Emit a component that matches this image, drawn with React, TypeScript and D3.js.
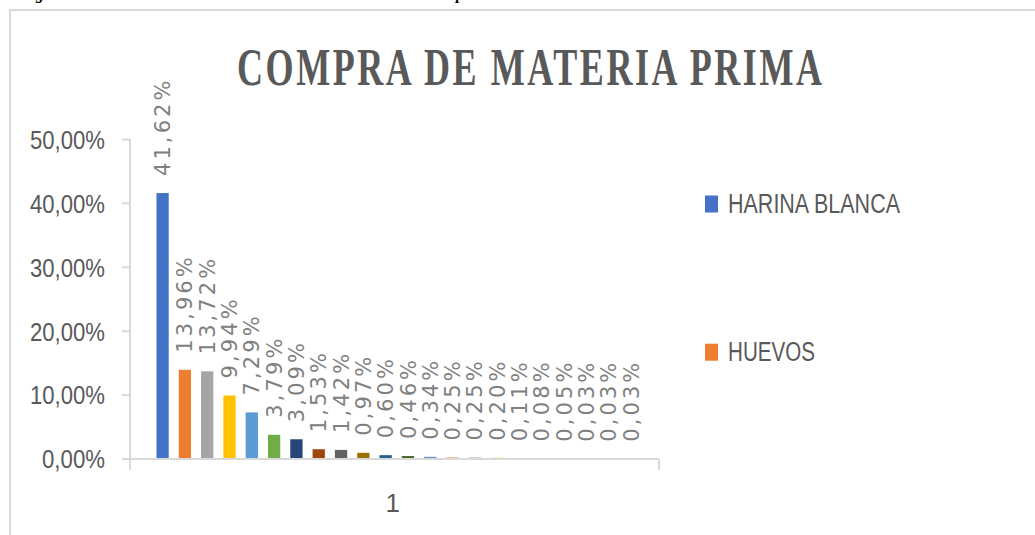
import React from "react";
import * as d3 from "d3";

const title = "COMPRA DE MATERIA PRIMA";
const categories = ["1"];
const legendNames = ["HARINA BLANCA", "HUEVOS"];
const values = [
  0.4162, 0.1396, 0.1372, 0.0994, 0.0729, 0.0379, 0.0309, 0.0153, 0.0142, 0.0097, 0.006,
  0.0046, 0.0034, 0.0025, 0.0025, 0.002, 0.0011, 0.0008, 0.0005, 0.0003, 0.0003, 0.0003,
];
const colors = [
  "#4472C4", "#ED7D31", "#A5A5A5", "#FFC000", "#5B9BD5", "#70AD47", "#264478", "#9E480E",
  "#636363", "#997300", "#255E91", "#43682B", "#698ED0", "#F1975A", "#B7B7B7", "#FFCD33",
  "#7CAFDD", "#8CC168", "#335AA1", "#D26012", "#848484", "#CC9A00",
];
const yTicks = [0, 0.1, 0.2, 0.3, 0.4, 0.5];

const fmtPct = (v: number) => d3.format(".2f")(v * 100).replace(".", ",") + "%";

export default function App() {
  const W = 1035;
  const H = 535;
  const plotLeft = 130;
  const plotRight = 659;
  const y = d3.scaleLinear().domain([0, 0.5]).range([459, 139.5]);
  const x0 = d3.scaleBand<string>().domain(categories).range([plotLeft, plotRight]).paddingOuter(0.039).align(0.56);
  const ids = values.map((_, i) => String(i));
  const x1 = d3
    .scaleBand<string>()
    .domain(ids)
    .range([0, x0.bandwidth()])
    .paddingInner(0.45)
    .paddingOuter(0.225);
  const grid = "#d9d9d9";
  const textCol = "#595959";
  const labelFont = "'Liberation Sans Narrow', 'Arial Narrow', 'Liberation Sans', sans-serif";
  const titleScale = 0.68;

  return (
    <svg
      width={W}
      height={H}
      style={{ position: "absolute", left: 0, top: 0, background: "#fff" }}
    >
      {/* cropped caption */}
      <text x={21} y={-1} fontFamily="'Liberation Serif', serif" fontWeight="bold" fontStyle="italic" fontSize={16} fill="#000">
        Figura 10. Análisis de los resultados de la materia
      </text>
      <text x={456} y={-1} fontFamily="'Liberation Serif', serif" fontWeight="bold" fontStyle="italic" fontSize={16} fill="#000">
        prima
      </text>
      {/* chart frame */}
      <rect x={10} y={10} width={W + 20} height={H + 20} fill="none" stroke={grid} strokeWidth={2} />

      {/* title */}
      <text
        transform={`translate(529.5,85) scale(${titleScale},1)`}
        textAnchor="middle"
        fontFamily="'Liberation Serif', 'Times New Roman', serif"
        fontWeight="bold"
        fontSize={53}
        fill={textCol}
        textLength={585 / titleScale}
        lengthAdjust="spacing"
      >
        {title}
      </text>

      {/* y axis */}
      <line x1={plotLeft} x2={plotLeft} y1={y(0.5)} y2={470} stroke={grid} strokeWidth={2} />
      {yTicks.map((t) => {
        const s = d3.format(".2f")(t * 100).replace(".", ",") + "%";
        const nd = s.replace(/[^0-9]/g, "").length;
        return (
          <g key={t}>
            <line x1={122} x2={plotLeft} y1={y(t)} y2={y(t)} stroke={grid} strokeWidth={2} />
            <text
              x={105}
              y={y(t)}
              dy="0.36em"
              textAnchor="end"
              fontFamily={labelFont}
              fontSize={26}
              fill={textCol}
              textLength={12 * nd + 27}
              lengthAdjust="spacingAndGlyphs"
            >
              {s}
            </text>
          </g>
        );
      })}

      {/* bars */}
      {values.map((v, i) => {
        const bx = (x0("1") as number) + (x1(String(i)) as number);
        return (
          <rect key={i} x={bx} y={y(v)} width={x1.bandwidth()} height={y(0) - y(v)} fill={colors[i]} />
        );
      })}

      {/* x axis */}
      <line x1={122} x2={plotRight} y1={y(0)} y2={y(0)} stroke={grid} strokeWidth={2} />
      <line x1={plotRight} x2={plotRight} y1={y(0)} y2={470} stroke={grid} strokeWidth={2} />
      {categories.map((c) => (
        <text
          key={c}
          x={(x0(c) as number) + x0.bandwidth() / 2 - 4}
          y={512}
          textAnchor="middle"
          fontFamily={labelFont}
          fontSize={26}
          fill={textCol}
        >
          {c}
        </text>
      ))}

      {/* data labels */}
      {values.map((v, i) => {
        const cx = (x0("1") as number) + (x1(String(i)) as number) + x1.bandwidth() / 2;
        const ty = y(v) - 17;
        return (
          <text
            key={i}
            transform={`translate(${cx},${ty}) rotate(-90)`}
            dy="0.36em"
            fontFamily="'DejaVu Sans', sans-serif"
            fontSize={21}
            letterSpacing={3.1}
            fill="#808080"
          >
            {fmtPct(v)}
          </text>
        );
      })}

      {/* legend */}
      {legendNames.map((n, i) => {
        const cy = [203.5, 351.7][i];
        return (
          <g key={n}>
            <rect x={705} y={cy - 8} width={13} height={17} fill={colors[i]} />
            <text
              x={728}
              y={cy}
              dy="0.36em"
              fontFamily={labelFont}
              fontSize={27}
              fill={textCol}
              textLength={i === 0 ? 172 : 87}
              lengthAdjust="spacingAndGlyphs"
            >
              {n}
            </text>
          </g>
        );
      })}
    </svg>
  );
}
